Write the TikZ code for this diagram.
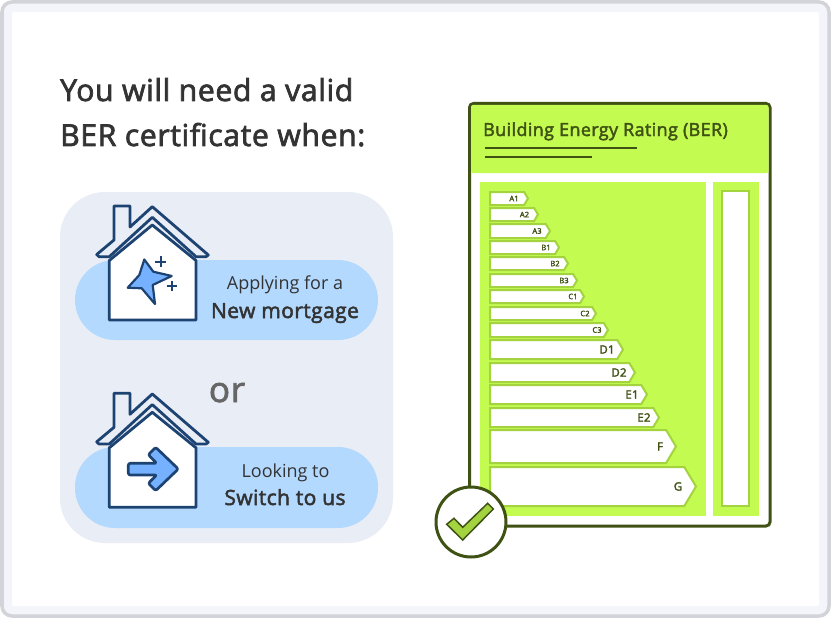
\documentclass[tikz,border=0pt]{standalone}
\usepackage{fontspec}
\setmainfont{Open Sans}
\newfontfamily\semifont[FakeBold=2.4,LetterSpace=2]{Open Sans}
\usetikzlibrary{calc}
\definecolor{navy}{HTML}{1D4373}
\definecolor{framegrey}{HTML}{D3D3DA}
\definecolor{bandgrey}{HTML}{F4F5FA}
\definecolor{panelgrey}{HTML}{E9EDF5}
\definecolor{pillblue}{HTML}{B3D9FF}
\definecolor{iconblue}{HTML}{75B1FF}
\definecolor{limegreen}{HTML}{C4FB50}
\definecolor{bargreen}{HTML}{A3D33F}
\definecolor{darkolive}{HTML}{3F5214}
\definecolor{inktext}{HTML}{333333}
\tikzset{
  pill/.style={fill=pillblue,rounded corners=40},
  houseline/.style={draw=navy,line width=2.8,line join=round},
  headtext/.style={anchor=base west,inner sep=0,text=inktext,font=\semifont\fontsize{30.2}{30}\selectfont},
  thintext/.style={anchor=base,inner sep=0,text=inktext,font=\fontsize{18}{18}\selectfont},
  boldtext/.style={anchor=base,inner sep=0,text=inktext,font=\semifont\fontsize{21}{21}\selectfont},
  barshape/.style={draw=bargreen,fill=white,line width=2},
}
\newcommand{\housebody}[1]{%
  \draw [houseline,fill=none,shift={(0,#1)}] (114,240) -- (114,206) -- (130,206) -- (130,227) -- (152.3,206.7)
    -- (208.3,255) -- (206,256.7) -- (196,256.7) -- (152.3,217.3) -- (109.3,256.7) -- (99,256.7) -- (96.7,254.5) -- cycle;
  \draw [houseline,fill=white,shift={(0,#1)}] (109.3,320) -- (109.3,260.5) -- (152.3,225) -- (196,260.5) -- (196,320) -- cycle;
}
\begin{document}
\begin{tikzpicture}[x=1pt,y=-1pt]
\useasboundingbox (0,0) rectangle (831,618);
% Frame
\fill [white] (0,0) rectangle (831,618);
\draw [draw=framegrey,fill=bandgrey,line width=3.5,rounded corners=10] (2,2) rectangle (829,616);
\fill [white,rounded corners=2] (12,12) rectangle (819,606);
% Heading
\node [headtext] (headone) at (60,101) {You will need a valid};
\node [headtext] (headtwo) at (60,146) {BER certificate when:};
% Left panel
\fill [panelgrey,rounded corners=45] (60,192) rectangle (393,543);
\fill [pill] (75,260) rectangle (378,340);
\fill [pill] (75,447) rectangle (378,528);
\node [thintext] (applying) at (285,289) {Applying for a};
\node [boldtext] (mortgage) at (285,318) {New mortgage};
\node [anchor=base,inner sep=0,text=black!60,font=\semifont\fontsize{35}{35}\selectfont] (orword) at (227,402) {or};
\node [thintext] (looking) at (285.5,477) {Looking to};
\node [boldtext] (switch) at (285,505) {Switch to us};
% Houses
\housebody{0}
\housebody{187.3}
\draw [houseline,fill=iconblue,line width=2.2] (144.3,259.5) -- (153.3,271.7) -- (171.7,276) -- (152.7,285) -- (155,304) -- (141.7,288.3) -- (127.7,287.7) -- (139.3,275) -- cycle;
\foreach \xc/\yc in {160.7/261.7,172/286}
  \draw [navy,line width=2.4] (\xc-5.3,\yc) -- (\xc+5.3,\yc) (\xc,\yc-5.3) -- (\xc,\yc+5.3);
\draw [houseline,fill=iconblue,line width=2.7,rounded corners=2] (128.3,463.3) -- (156.7,463.3) -- (148.3,454.7) -- (155.7,447.3) -- (178.3,469) -- (155.7,490.7) -- (148.3,483.3) -- (156.7,475) -- (128.3,475) -- cycle;
% Certificate
\draw [draw=darkolive,fill=white,line width=3,rounded corners=4] (469.5,103.5) rectangle (770,526);
\fill [limegreen,rounded corners=2] (471,105) rectangle (768.5,173);
\fill [limegreen] (480,182) rectangle (706,516);
\fill [limegreen] (713,182) rectangle (759,516);
\node [anchor=base west,inner sep=0,text=darkolive,font=\semifont\fontsize{18}{18}\selectfont] (bertitle) at (483,136) {Building Energy Rating (BER)};
\draw [darkolive,line width=2] (485,148) -- (637,148);
\draw [darkolive,line width=2] (485,157) -- (592,157);
\draw [barshape] (722,191) rectangle (749,506);
% Scale bars
\foreach \ytop/\ybot/\xtip/\lab/\xlab/\sz in {
  192/205/528/A1/514/7.5,208/221/538/A2/524.5/7.5,224/238/550/A3/537/7.5,
  241/254/559/B1/546/7.5,257/270/568/B2/555/7.5,274/287/577/B3/564/7.5,
  290/303/584/C1/573/7.5,307/320/596/C2/585/7.5,323/337/608/C3/597/7.5,
  340/359/623/D1/607/11.5,363/382/635/D2/619/11.5,385/404/647/E1/632/11.5,
  408/427/659/E2/644/11.5,430/463/676/F/660/11.5,467/506/696/G/678/11.5}{
  \pgfmathsetmacro{\xneck}{\xtip-0.3*(\ybot-\ytop)}
  \pgfmathsetmacro{\ymid}{(\ytop+\ybot)/2}
  \draw [barshape] (490,\ytop) -- (\xneck,\ytop) -- (\xtip,\ymid) -- (\xneck,\ybot) -- (490,\ybot) -- cycle;
  \node [inner sep=0,text=darkolive,font=\semifont\fontsize{\sz}{\sz}\selectfont] (bar\lab) at (\xlab,\ymid) {\lab};
}
% Tick badge
\draw [draw=darkolive,fill=white,line width=3] (471,522) circle (35);
\draw [draw=darkolive,fill=bargreen,line width=1.5] (446.7,524.3) -- (454,518.3) -- (462.7,527.3) -- (487.7,503.3) -- (493.3,509) -- (462.7,540) -- cycle;
\end{tikzpicture}
\end{document}
